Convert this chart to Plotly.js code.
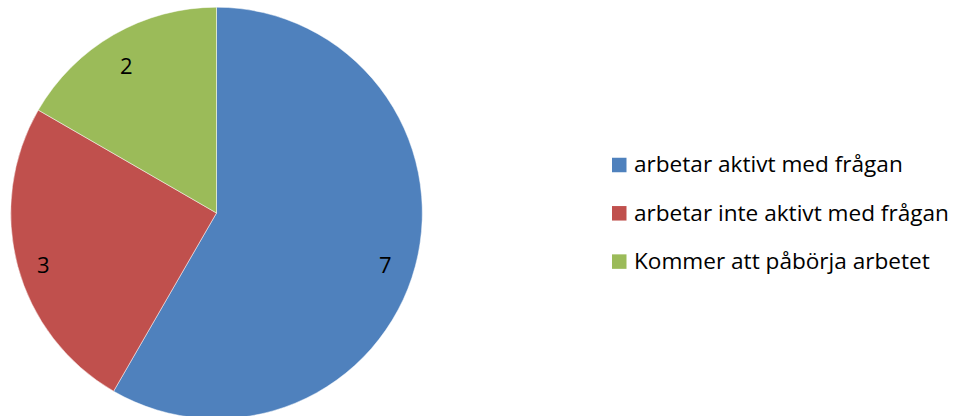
<!DOCTYPE html>
<html>
<head>
<meta charset="utf-8">
<script src="https://cdn.plot.ly/plotly-3.0.1.min.js"></script>
<style>
  html, body { margin: 0; padding: 0; overflow: hidden; background: #ffffff; }
  #chart { width: 961px; height: 420px; }
</style>
</head>
<body>
<div id="chart"></div>
<script>
const categories = ['arbetar aktivt med frågan', 'arbetar inte aktivt med frågan', 'Kommer att påbörja arbetet'];
const values = [7, 3, 2];
const colors = ['#4F81BD', '#C0504D', '#9BBB59'];

const W = 961, H = 420;
const cx = 216.5, cy = 213, R = 205.8;
const px2x = function (px) { return px / W; };
const py2y = function (py) { return 1 - py / H; };

const pieTrace = {
  type: 'pie',
  labels: categories,
  values: values,
  sort: false,
  direction: 'clockwise',
  rotation: 0,
  textinfo: 'none',
  hoverinfo: 'none',
  showlegend: false,
  marker: { colors: colors, line: { color: 'rgba(255,255,255,0.6)', width: 0.8 } },
  domain: { x: [px2x(cx - R), px2x(cx + R)], y: [py2y(cy + R), py2y(cy - R)] }
};

// data labels, placed along each slice's mid-angle near the outer edge
const total = values.reduce(function (a, b) { return a + b; }, 0);
const annotations = [];
let cum = 0;
const labelFrac = 0.86;
values.forEach(function (v) {
  const mid = (cum + v / 2) / total * 2 * Math.PI;
  cum += v;
  const lx = cx + labelFrac * R * Math.sin(mid) - 2;
  const ly = cy - labelFrac * R * Math.cos(mid) + 5;
  annotations.push({
    xref: 'paper', yref: 'paper', x: px2x(lx), y: py2y(ly),
    xanchor: 'center', yanchor: 'middle', showarrow: false,
    text: String(v),
    font: { family: 'Open Sans, sans-serif', size: 22, color: '#000000' }
  });
});

// legend (square markers + text)
const shapes = [];
const legX = 612, legSq = 14.5, legY0 = 165, legDy = 48.3;
categories.forEach(function (c, i) {
  const yc = legY0 + i * legDy;
  shapes.push({
    type: 'rect', xref: 'paper', yref: 'paper',
    x0: px2x(legX), x1: px2x(legX + legSq),
    y0: py2y(yc + legSq / 2), y1: py2y(yc - legSq / 2),
    fillcolor: colors[i], line: { width: 0 }
  });
  annotations.push({
    xref: 'paper', yref: 'paper', x: px2x(632), y: py2y(yc - 1),
    xanchor: 'left', yanchor: 'middle', showarrow: false,
    text: c,
    font: { family: 'Open Sans, sans-serif', size: 22.6, color: '#000000' }
  });
});

const layout = {
  width: W, height: H,
  margin: { l: 0, r: 0, t: 0, b: 0 },
  paper_bgcolor: '#ffffff',
  showlegend: false,
  annotations: annotations,
  shapes: shapes
};

Plotly.newPlot('chart', [pieTrace], layout, { displayModeBar: false, staticPlot: true });
</script>
</body>
</html>
